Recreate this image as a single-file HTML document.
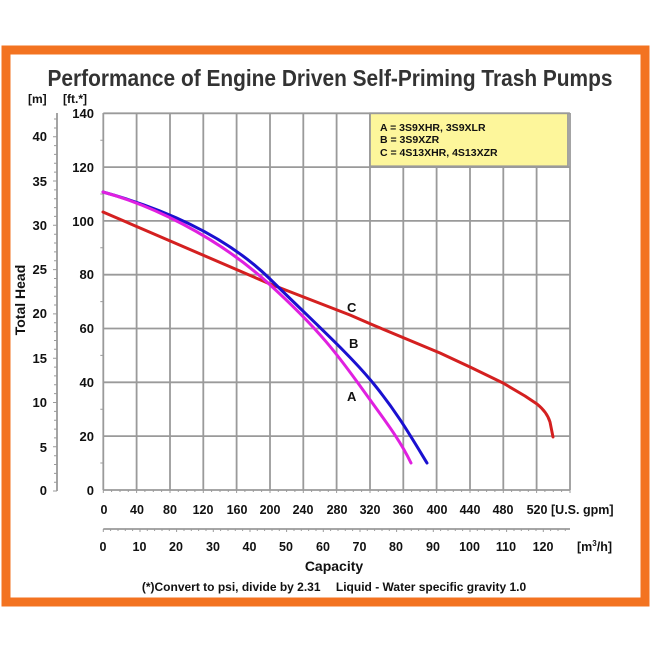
<!DOCTYPE html>
<html><head><meta charset="utf-8"><style>body{margin:0;background:#fff}svg{display:block}</style></head><body>
<svg width="650" height="650" xmlns="http://www.w3.org/2000/svg" font-family="Liberation Sans, Arial, sans-serif" font-weight="bold">
<rect x="0" y="0" width="650" height="650" fill="#fff"/>
<rect x="6" y="50" width="639" height="552" fill="none" stroke="#f37321" stroke-width="9"/>
<text x="330" y="86" text-anchor="middle" font-size="23" fill="#333" textLength="565" lengthAdjust="spacingAndGlyphs">Performance of Engine Driven Self-Priming Trash Pumps</text>
<g stroke="#9a9a9a" stroke-width="1.8">
<line x1="103.3" y1="113.3" x2="570" y2="113.3"/>
<line x1="103.3" y1="167.1" x2="570" y2="167.1"/>
<line x1="103.3" y1="220.9" x2="570" y2="220.9"/>
<line x1="103.3" y1="274.7" x2="570" y2="274.7"/>
<line x1="103.3" y1="328.5" x2="570" y2="328.5"/>
<line x1="103.3" y1="382.3" x2="570" y2="382.3"/>
<line x1="103.3" y1="436.1" x2="570" y2="436.1"/>
<line x1="103.3" y1="490" x2="570" y2="490"/>
<line x1="103.3" y1="113" x2="103.3" y2="490"/>
<line x1="136.6" y1="113" x2="136.6" y2="490"/>
<line x1="170" y1="113" x2="170" y2="490"/>
<line x1="203.3" y1="113" x2="203.3" y2="490"/>
<line x1="236.6" y1="113" x2="236.6" y2="490"/>
<line x1="270" y1="113" x2="270" y2="490"/>
<line x1="303.3" y1="113" x2="303.3" y2="490"/>
<line x1="336.6" y1="113" x2="336.6" y2="490"/>
<line x1="370" y1="113" x2="370" y2="490"/>
<line x1="403.3" y1="113" x2="403.3" y2="490"/>
<line x1="436.6" y1="113" x2="436.6" y2="490"/>
<line x1="470" y1="113" x2="470" y2="490"/>
<line x1="503.3" y1="113" x2="503.3" y2="490"/>
<line x1="536.6" y1="113" x2="536.6" y2="490"/>
<line x1="570" y1="113" x2="570" y2="490"/>
<line x1="57" y1="113" x2="57" y2="491"/>
<line x1="103.3" y1="529" x2="570" y2="529"/>
</g>
<g stroke="#9a9a9a" stroke-width="1">
<path d="M57 136.7h-4M57 145.6h-3M57 154.4h-3M57 163.3h-3M57 172.1h-3M57 181h-4M57 189.9h-3M57 198.7h-3M57 207.6h-3M57 216.4h-3M57 225.3h-4M57 234.2h-3M57 243h-3M57 251.9h-3M57 260.7h-3M57 269.6h-4M57 278.5h-3M57 287.3h-3M57 296.2h-3M57 305h-3M57 313.9h-4M57 322.8h-3M57 331.6h-3M57 340.5h-3M57 349.3h-3M57 358.2h-4M57 367.1h-3M57 375.9h-3M57 384.8h-3M57 393.6h-3M57 402.5h-4M57 411.4h-3M57 420.2h-3M57 429.1h-3M57 437.9h-3M57 446.8h-4M57 455.7h-3M57 464.5h-3M57 473.4h-3M57 482.2h-3M57 491h-4M57 128h-3M57 119h-3"/>
<path d="M103.3 140.2h-3M103.3 194h-3M103.3 247.8h-3M103.3 301.6h-3M103.3 355.4h-3M103.3 409.2h-3M103.3 463h-3"/>
</g>
<g fill="#111" font-size="13" text-anchor="end">
<text x="47" y="141">40</text><text x="47" y="186">35</text><text x="47" y="230">30</text><text x="47" y="274">25</text><text x="47" y="318">20</text><text x="47" y="363">15</text><text x="47" y="407">10</text><text x="47" y="452">5</text><text x="47" y="495">0</text>
<text x="94" y="118">140</text><text x="94" y="172">120</text><text x="94" y="226">100</text><text x="94" y="279">80</text><text x="94" y="333">60</text><text x="94" y="387">40</text><text x="94" y="441">20</text><text x="94" y="495">0</text>
</g>
<text x="28" y="103" font-size="12" fill="#111">[m]</text>
<text x="63" y="103" font-size="12" fill="#111">[ft.*]</text>
<text transform="translate(25,300) rotate(-90)" text-anchor="middle" font-size="14" fill="#111">Total Head</text>
<g fill="#111" font-size="12.5" text-anchor="middle">
<text x="104" y="514">0</text><text x="137" y="514">40</text><text x="170" y="514">80</text><text x="203" y="514">120</text><text x="237" y="514">160</text><text x="270" y="514">200</text><text x="303" y="514">240</text><text x="337" y="514">280</text><text x="370" y="514">320</text><text x="403" y="514">360</text><text x="437" y="514">400</text><text x="470" y="514">440</text><text x="503" y="514">480</text><text x="537" y="514">520</text>
<text x="103" y="551">0</text><text x="139.5" y="551">10</text><text x="176" y="551">20</text><text x="213" y="551">30</text><text x="249.5" y="551">40</text><text x="286" y="551">50</text><text x="323" y="551">60</text><text x="359.5" y="551">70</text><text x="396" y="551">80</text><text x="433" y="551">90</text><text x="469.5" y="551">100</text><text x="506" y="551">110</text><text x="543" y="551">120</text>
</g>
<text x="551" y="514" font-size="12.5" fill="#111">[U.S. gpm]</text>
<text x="577" y="551" font-size="12.5" fill="#111">[m<tspan font-size="8" dy="-5">3</tspan><tspan dy="5">/h]</tspan></text>
<text x="334" y="571" text-anchor="middle" font-size="14" fill="#111">Capacity</text>
<text x="334" y="591" text-anchor="middle" font-size="12" fill="#111">(*)Convert to psi, divide by 2.31 <tspan dx="12">Liquid - Water specific gravity 1.0</tspan></text>
<rect x="370" y="113.3" width="198" height="53" fill="#fdf69b" stroke="#9a9a9a" stroke-width="1.8"/>
<g font-size="10.5" fill="#111"><text x="380" y="131">A = 3S9XHR, 3S9XLR</text><text x="380" y="143">B = 3S9XZR</text><text x="380" y="156">C = 4S13XHR, 4S13XZR</text></g>
<g fill="none" stroke-width="3" stroke-linejoin="round" stroke-linecap="round">
<path stroke="#d42020" d="M103 212 L270 284 L350 315 L373 325 L440 353 L470 367 L503 383 L525 396 L537 404 Q547 412 550 422 L553 437"/>
<path stroke="#1a10d0" d="M103,192 C150,205 220,230 270,279 S350,355 373,383 S410,435 427,463"/>
<path stroke="#e020e0" d="M103,192 C150,205 215,235 268,283 S340,358 363,390 S400,440 411,463"/>
</g>
<g font-size="13" fill="#111"><text x="347" y="312">C</text><text x="349" y="348">B</text><text x="347" y="401">A</text></g>
<g stroke="#9a9a9a" stroke-width="1">
<path d="M103.3 490v3M111.6 490v2M120 490v2M128.3 490v2M136.6 490v3M144.9 490v2M153.3 490v2M161.6 490v2M170 490v3M178.3 490v2M186.6 490v2M194.9 490v2M203.3 490v3M211.6 490v2M220 490v2M228.3 490v2M236.6 490v3M244.9 490v2M253.3 490v2M261.6 490v2M270 490v3M278.3 490v2M286.6 490v2M294.9 490v2M303.3 490v3M311.6 490v2M320 490v2M328.3 490v2M336.6 490v3M344.9 490v2M353.3 490v2M361.6 490v2M370 490v3M378.3 490v2M386.6 490v2M394.9 490v2M403.3 490v3M411.6 490v2M420 490v2M428.3 490v2M436.6 490v3M444.9 490v2M453.3 490v2M461.6 490v2M470 490v3M478.3 490v2M486.6 490v2M494.9 490v2M503.3 490v3M511.6 490v2M520 490v2M528.3 490v2M536.6 490v3M544.9 490v2M553.3 490v2M561.6 490v2M570 490v3"/>
<path d="M103.3 529v3M110.6 529v2M118 529v2M125.3 529v2M132.6 529v2M140 529v3M147.3 529v2M154.6 529v2M162 529v2M169.3 529v2M176.6 529v3M184 529v2M191.3 529v2M198.6 529v2M206 529v2M213.3 529v3M220.6 529v2M228 529v2M235.3 529v2M242.6 529v2M250 529v3M257.3 529v2M264.6 529v2M272 529v2M279.3 529v2M286.6 529v3M294 529v2M301.3 529v2M308.6 529v2M316 529v2M323.3 529v3M330.6 529v2M338 529v2M345.3 529v2M352.6 529v2M360 529v3M367.3 529v2M374.6 529v2M382 529v2M389.3 529v2M396.6 529v3M404 529v2M411.3 529v2M418.6 529v2M426 529v2M433.3 529v3M440.6 529v2M448 529v2M455.3 529v2M462.6 529v2M470 529v3M477.3 529v2M484.6 529v2M492 529v2M499.3 529v2M506.6 529v3M514 529v2M521.3 529v2M528.6 529v2M536 529v2M543.3 529v3M550.6 529v2M558 529v2M565.3 529v2"/>
</g>
</svg>
</body></html>
